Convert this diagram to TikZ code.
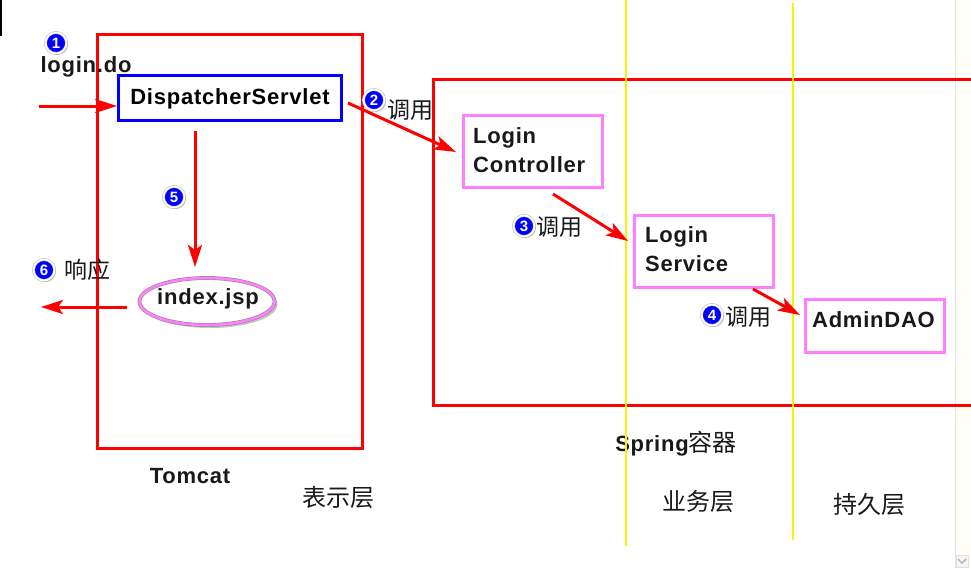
\documentclass[tikz,border=0pt]{standalone}
\usepackage{fontspec}
\setmainfont[LetterSpace=3.5]{Liberation Sans}
\newfontfamily\cjk{Noto Sans CJK SC}
\usetikzlibrary{arrows.meta,shadows,shapes.geometric,positioning}

\definecolor{boxpink}{HTML}{FF80FF}
\tikzset{
	layerbox/.style={draw=red,line width=3pt,inner sep=0pt},
	beanbox/.style={draw=boxpink,line width=3pt,inner sep=0pt},
	flow/.style={draw=red,line width=3pt,-{Stealth[length=22pt,width=14pt,inset=5pt]}},
	layerline/.style={draw=yellow,line width=2.8pt},
	badge/.style={circle,fill=blue,draw=black!30,double=white,double distance=1.8pt,line width=.5pt,minimum size=21pt,inner sep=0pt,text=white,
		font=\fontsize{15}{15}\selectfont\bfseries,drop shadow={shadow xshift=1.5pt,shadow yshift=-1.5pt,opacity=.5}},
	latin/.style={inner sep=0pt,font=\fontsize{22}{29}\selectfont\bfseries,text=black!90,align=left},
	han/.style={inner sep=0pt,font=\fontsize{23}{26}\selectfont\cjk,text=black!90},
	layertext/.style={han,font=\fontsize{24}{26}\selectfont\cjk},
}

\begin{document}
\begin{tikzpicture}[x=1pt,y=-1pt]
	
	\useasboundingbox (0,0) rectangle (971,568);
	
	\fill [fill=white] (0,0) rectangle (971,568);
	\fill [fill=black] (0,0) rectangle (2,36);
	
	%%%%%%%%%%%%%%%%%%%%%%%%%%%%%%%%%%%%%%%%%%%%%%%%%%%%%%
	
	\fill [fill=black!2!yellow!3!white] (955,0) rectangle (971,568);
	\draw [black!10] (955,0) -- (955,568);
	\node [draw=black!12,fill=black!4,minimum size=12pt,inner sep=0pt] (scroll-down) at (962,561) {};
	\draw [black!30,line width=1.4pt] (958,559) -- (962,563) -- (966,559);
	
	%%%%%%%%%%%%%%%%%%%%%%%%%%%%%%%%%%%%%%%%%%%%%%%%%%%%%%
	
	\node [layerbox,minimum width=265pt,minimum height=414pt] (tomcat) at (229.5,241) {};
	\node [latin] (tomcat-text) at (190,476) {Tomcat};
	
	\draw [layerbox] (975,79) -- (433.5,79) -- (433.5,405) -- (975,405);
	\node [latin] (spring-text) at (676,444) {Spring{\cjk\mdseries\fontsize{24}{26}\selectfont 容器}};
	
	%%%%%%%%%%%%%%%%%%%%%%%%%%%%%%%%%%%%%%%%%%%%%%%%%%%%%%
	
	\coordinate (business-top) at (626,0);
	\coordinate (business-bottom) at (626,546);
	\coordinate (persist-top) at (793,3);
	\coordinate (persist-bottom) at (793,540);
	\draw [layerline] (business-top) -- (business-bottom);
	\draw [layerline] (persist-top) -- (persist-bottom);
	
	\node [layertext] (view-text) at (338,497) {表示层};
	\node [layertext] (business-text) at (698.5,501) {业务层};
	\node [layertext] (persist-text) at (869.5,504) {持久层};
	
	%%%%%%%%%%%%%%%%%%%%%%%%%%%%%%%%%%%%%%%%%%%%%%%%%%%%%%
	
	\node [draw=blue,line width=3pt,minimum width=223pt,minimum height=45pt,inner sep=0pt,text depth=2pt,
		font=\fontsize{22}{26}\selectfont\bfseries] (dispatcher) at (230,98) {DispatcherServlet};
	
	\node [beanbox,minimum width=139pt,minimum height=72pt] (controller) at (533,151.5) {};
		\node [latin,anchor=west] (controller-text) at (473,150.5) {Login\\Controller};
	\node [beanbox,minimum width=139pt,minimum height=72pt] (service) at (704,251.5) {};
		\node [latin,anchor=west] (service-text) at (645,249.5) {Login\\Service};
	\node [beanbox,minimum width=139pt,minimum height=53pt] (dao) at (875,326) {};
		\node [latin] (dao-text) at (873.5,320) {AdminDAO};
	
	\node [ellipse,draw=black!45,double=boxpink,double distance=2.6pt,line width=.6pt,fill=white,minimum width=135pt,minimum height=47pt,inner sep=0pt,
		drop shadow={shadow xshift=3pt,shadow yshift=-3pt,opacity=.45}] (index) at (207,301.5) {};
	\node [latin] (index-text) at (208,299) {index.jsp};
	
	%%%%%%%%%%%%%%%%%%%%%%%%%%%%%%%%%%%%%%%%%%%%%%%%%%%%%%
	
	\node [latin] (login-text) at (86,67) {login.do};
	\node [badge] (step-one) at (56,43) {1};
	\node [badge] (step-two) at (374,100) {2};
	\node [han] (call-two) at (410,110) {调用};
	\node [badge] (step-three) at (524,226) {3};
	\node [han] (call-three) at (559,227) {调用};
	\node [badge] (step-four) at (712,315) {4};
	\node [han] (call-four) at (748,317) {调用};
	\node [badge] (step-five) at (174,197) {5};
	\node [badge] (step-six) at (44,270) {6};
	\node [han] (reply-text) at (87,270) {响应};
	
	%%%%%%%%%%%%%%%%%%%%%%%%%%%%%%%%%%%%%%%%%%%%%%%%%%%%%%
	
	\coordinate (request-in) at (39,106);
	\coordinate (call-two-start) at (348,103);
	\coordinate (call-two-end) at (456,152);
	\coordinate (call-three-start) at (553,194);
	\coordinate (call-three-end) at (628,241);
	\coordinate (call-four-start) at (753,289);
	\coordinate (call-four-end) at (800,315);
	\coordinate (forward-start) at (195,131);
	\coordinate (forward-end) at (195,267);
	\coordinate (reply-start) at (127,307);
	\coordinate (reply-end) at (41,307);
	
	\draw [flow] (request-in) -- (request-in -| dispatcher.west);
	\draw [flow] (call-two-start) -- (call-two-end);
	\draw [flow] (call-three-start) -- (call-three-end);
	\draw [flow] (call-four-start) -- (call-four-end);
	\draw [flow] (forward-start) -- (forward-end);
	\draw [flow] (reply-start) -- (reply-end);
	
\end{tikzpicture}
\end{document}
